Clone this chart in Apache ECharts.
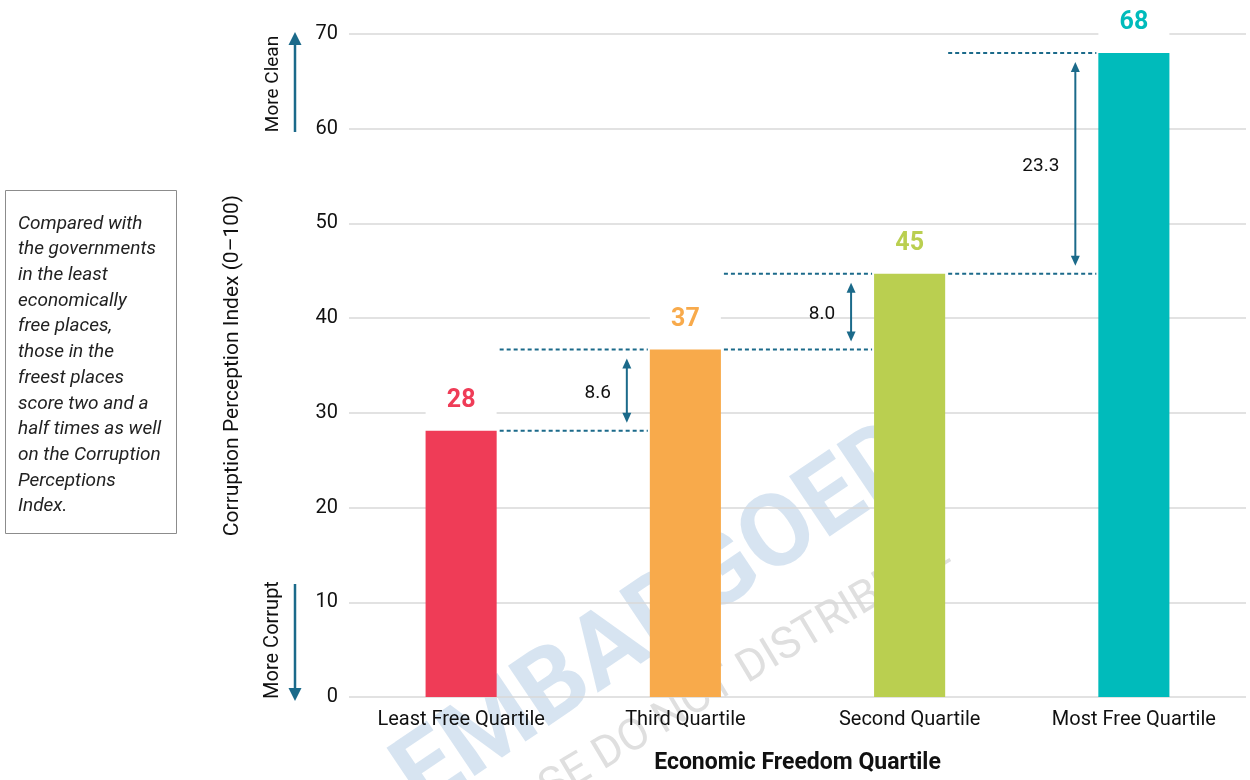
<!DOCTYPE html>
<html>
<head>
<meta charset="utf-8">
<script src="https://cdn.jsdelivr.net/npm/echarts@6/dist/echarts.min.js"></script>
<style>
html,body{margin:0;padding:0;background:#fff;}
#main{width:1250px;height:780px;}
</style>
</head>
<body>
<div id="main"></div>
<script>
// ---- data ----
var categories = ['Least Free Quartile', 'Third Quartile', 'Second Quartile', 'Most Free Quartile'];
var values = [28.1, 36.7, 44.7, 68.0];
var barLabels = ['28', '37', '45', '68'];
var diffLabels = ['8.6', '8.0', '23.3'];
var yTicks = [0, 10, 20, 30, 40, 50, 60, 70];
var barColors = ['#EF3C57', '#F8AA4B', '#BACF50', '#00BBBB'];
var noteLines = ['Compared with', 'the governments', 'in the least', 'economically', 'free places,', 'those in the', 'freest places', 'score two and a', 'half times as well', 'on the Corruption', 'Perceptions', 'Index.'];

var FONT = 'Roboto, "Noto Sans", sans-serif';
var BAR_FRAC = 0.317;
var ANN = '#1B6A8A';

var gapData = [];
for (var i = 0; i < values.length - 1; i++) {
  gapData.push([i, values[i], values[i + 1]]);
}

var chart = echarts.init(document.getElementById('main'), null, {renderer: 'canvas'});

function renderGap(params, api) {
  var i = api.value(0), lo = api.value(1), hi = api.value(2);
  var pLo = api.coord([i, lo]);
  var pHi = api.coord([i + 1, hi]);
  var band = pHi[0] - pLo[0];
  var barW = band * BAR_FRAC;
  var x0 = pLo[0] + barW / 2 + 3;
  var x1 = pHi[0] - barW / 2 - 2;
  var yLo = pLo[1], yHi = pHi[1];
  var ax = x1 - 21;
  var tTop = yHi + 9, tBot = yLo - 8;
  var dash = {stroke: ANN, lineWidth: 2, lineDash: [4, 3]};
  return {
    type: 'group',
    children: [
      {type: 'line', shape: {x1: x0, y1: yLo, x2: x1, y2: yLo}, style: dash},
      {type: 'line', shape: {x1: x0, y1: yHi, x2: x1, y2: yHi}, style: dash},
      {type: 'line', shape: {x1: ax, y1: tTop + 6, x2: ax, y2: tBot - 6}, style: {stroke: ANN, lineWidth: 2}},
      {type: 'polygon', shape: {points: [[ax, tTop], [ax - 4.5, tTop + 10], [ax + 4.5, tTop + 10]]}, style: {fill: ANN}},
      {type: 'polygon', shape: {points: [[ax, tBot], [ax - 4.5, tBot - 10], [ax + 4.5, tBot - 10]]}, style: {fill: ANN}},
      {type: 'text', style: {text: diffLabels[i], x: ax - 16, y: (yLo + yHi) / 2 + 3, align: 'right', verticalAlign: 'middle', fontSize: 19, fontFamily: FONT, fill: '#111'}}
    ]
  };
}

var option = {
  animation: false,
  textStyle: {fontFamily: FONT},
  grid: {left: 349, right: 4, top: 34, bottom: 82, containLabel: false},
  xAxis: {
    type: 'category',
    data: categories,
    axisLine: {show: false},
    axisTick: {show: false},
    axisLabel: {fontSize: 20, color: '#111', margin: 13, fontFamily: FONT},
    name: 'Economic Freedom Quartile',
    nameLocation: 'middle',
    nameGap: 55,
    nameTextStyle: {fontSize: 23, fontWeight: 'bold', color: '#111', fontFamily: FONT}
  },
  yAxis: {
    type: 'value',
    min: yTicks[0],
    max: yTicks[yTicks.length - 1],
    interval: yTicks[1] - yTicks[0],
    axisLine: {show: false},
    axisTick: {show: false},
    axisLabel: {fontSize: 20, color: '#111', margin: 11, fontFamily: FONT},
    splitLine: {lineStyle: {color: '#D9D9D9', width: 1.5}},
    name: 'Corruption Perception Index (0\u2013100)',
    nameLocation: 'middle',
    nameGap: 106,
    nameTextStyle: {fontSize: 21, color: '#111', fontFamily: FONT}
  },
  graphic: [
    // watermark
    {type: 'text', z: -1, x: 660, y: 620, rotation: 34 * Math.PI / 180, silent: true,
      style: {text: 'EMBARGOED', fontSize: 102, fontWeight: 'bold', fontFamily: FONT, fill: 'rgba(160,190,222,0.42)', align: 'center', verticalAlign: 'middle'}},
    {type: 'text', z: -1, x: 690, y: 705, rotation: 31 * Math.PI / 180, silent: true,
      style: {text: 'RELEASE DO NOT DISTRIBUTE', fontSize: 44, fontFamily: FONT, fill: 'rgba(175,175,175,0.4)', align: 'center', verticalAlign: 'middle'}},
    // note box
    {type: 'rect', shape: {x: 5.5, y: 190.5, width: 171, height: 343}, style: {fill: '#fff', stroke: '#8C8C8C', lineWidth: 1}},
    {type: 'text', x: 18, y: 211, style: {text: noteLines.join('\n'), fontSize: 19, fontStyle: 'italic', fontFamily: FONT, lineHeight: 25.7, fill: '#222', verticalAlign: 'top', align: 'left'}},
    // More Clean
    {type: 'text', x: 273, y: 84, rotation: Math.PI / 2, style: {text: 'More Clean', fontSize: 19, fontFamily: FONT, fill: '#111', align: 'center', verticalAlign: 'middle'}},
    {type: 'line', shape: {x1: 295, y1: 132, x2: 295, y2: 42}, style: {stroke: ANN, lineWidth: 2.5}},
    {type: 'polygon', shape: {points: [[295, 32], [288.5, 45], [301.5, 45]]}, style: {fill: ANN}},
    // More Corrupt
    {type: 'text', x: 273, y: 640, rotation: Math.PI / 2, style: {text: 'More Corrupt', fontSize: 20, fontFamily: FONT, fill: '#111', align: 'center', verticalAlign: 'middle'}},
    {type: 'line', shape: {x1: 295, y1: 584, x2: 295, y2: 692}, style: {stroke: ANN, lineWidth: 2.5}},
    {type: 'polygon', shape: {points: [[295, 701], [288.5, 688], [301.5, 688]]}, style: {fill: ANN}}
  ],
  series: [
    {
      type: 'bar',
      z: 3,
      barWidth: (BAR_FRAC * 100) + '%',
      data: values.map(function (v, k) {
        return {
          value: v,
          itemStyle: {color: barColors[k]},
          label: {color: barColors[k]}
        };
      }),
      label: {
        show: true,
        position: 'top',
        distance: 15,
        formatter: function (p) { return barLabels[p.dataIndex]; },
        fontSize: 25,
        fontWeight: 'bold',
        fontFamily: FONT,
        backgroundColor: '#fff',
        width: 71,
        height: 30,
        lineHeight: 30,
        align: 'center'
      }
    },
    {
      type: 'custom',
      z: 4,
      silent: true,
      clip: false,
      renderItem: renderGap,
      encode: {x: 0, y: [1, 2]},
      data: gapData
    }
  ]
};
chart.setOption(option);
</script>
</body>
</html>
